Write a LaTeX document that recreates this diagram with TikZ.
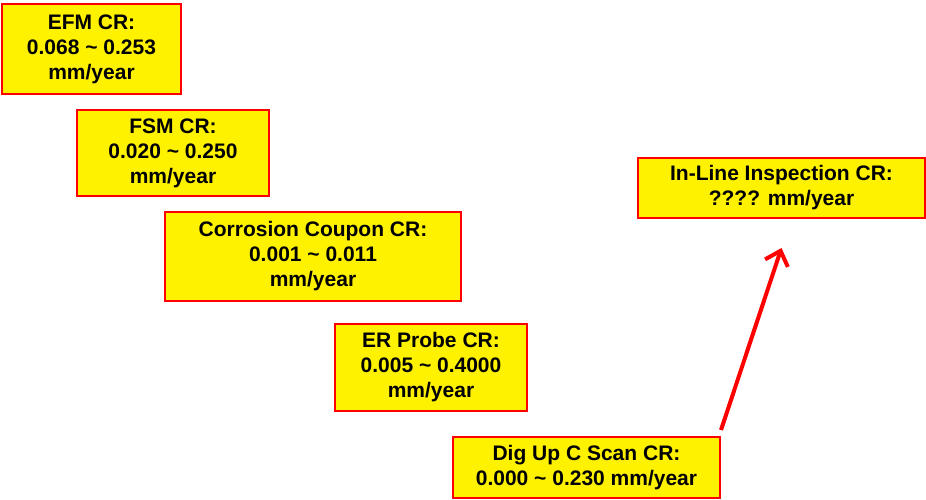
\documentclass[tikz,border=0pt]{standalone}
\usepackage{fontspec}
\setmainfont{Liberation Sans}
\usepackage{tikz}
\usetikzlibrary{arrows.meta, positioning, calc}

\begin{document}
\begin{tikzpicture}[
    x=1pt, y=-1pt,
    box/.style={draw=red, fill=yellow, line width=2pt, font=\fontsize{21}{25}\selectfont\bfseries, align=center, inner sep=0pt},
    arr/.style={-{Straight Barb[length=13pt, width=24pt]}, line width=4pt, red},
]
\useasboundingbox (0,0) rectangle (926,500);
\node[box, minimum width=179pt, minimum height=90pt] (efm) at (91.5,49) {EFM CR:\\0.068 \textasciitilde{} 0.253\\mm/year};
\node[box, minimum width=192pt, minimum height=86pt] (fsm) at (173,153) {FSM CR:\\0.020 \textasciitilde{} 0.250\\mm/year};
\node[box, minimum width=296pt, minimum height=89pt] (coupon) at (313,256.5) {Corrosion Coupon CR:\\0.001 \textasciitilde{} 0.011\\mm/year};
\node[box, minimum width=192pt, minimum height=87pt] (erprobe) at (431,367.5) {ER Probe CR:\\0.005 \textasciitilde{} 0.4000\\mm/year};
\node[box, minimum width=267pt, minimum height=61pt] (digup) at (586.5,467.5) {Dig Up C Scan CR:\\0.000 \textasciitilde{} 0.230 mm/year};
\node[box, minimum width=287pt, minimum height=60pt] (ili) at (781.5,188) {In-Line Inspection CR:\\???? mm/year};

\draw[arr] ([yshift=6pt]digup.north east) -- ([yshift=-29pt]ili.south);
\end{tikzpicture}
\end{document}
